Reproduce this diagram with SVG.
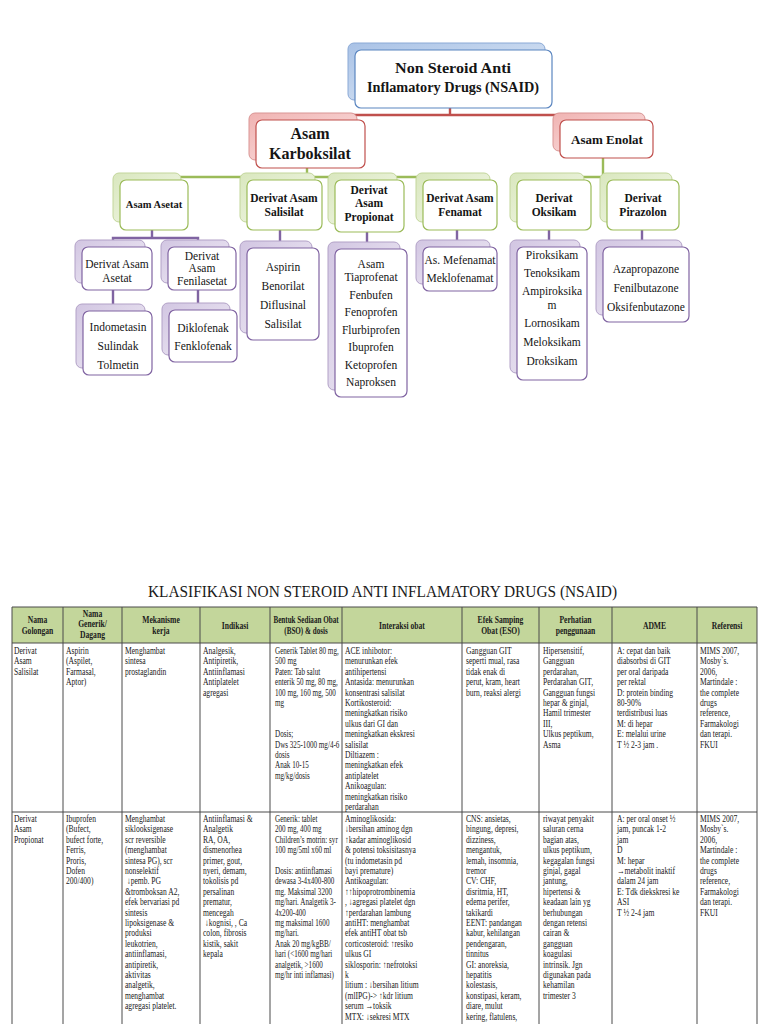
<svg xmlns="http://www.w3.org/2000/svg" width="768" height="1024" viewBox="0 0 768 1024">
<defs>
<linearGradient id="gB" x1="0" y1="0" x2="1" y2="1"><stop offset="0" stop-color="#a9c2e6"/><stop offset="1" stop-color="#e3ecf7"/></linearGradient>
<linearGradient id="gR" x1="0" y1="0" x2="1" y2="1"><stop offset="0" stop-color="#f0b3b2"/><stop offset="1" stop-color="#fbe3e3"/></linearGradient>
<linearGradient id="gG" x1="0" y1="0" x2="1" y2="1"><stop offset="0" stop-color="#d9e7be"/><stop offset="1" stop-color="#f4f8ea"/></linearGradient>
<linearGradient id="gP" x1="0" y1="0" x2="1" y2="1"><stop offset="0" stop-color="#d2c6e2"/><stop offset="1" stop-color="#f1edf6"/></linearGradient>
</defs>
<style>
.tr{font-family:"Liberation Serif","Times New Roman",serif;fill:#151515;text-anchor:middle}
.b{font-weight:bold}
.fr{fill:#ffffff;stroke-width:1.2}
.bk{stroke-width:1}
.sB{stroke:#5b86c0}.fB{fill:url(#gB);stroke:#8aa9d6}
.sR{stroke:#c0504d}.fR{fill:url(#gR);stroke:#d99594}
.sG{stroke:#9bbb59}.fG{fill:url(#gG);stroke:#c3d69b}
.sP{stroke:#8064a2}.fP{fill:url(#gP);stroke:#b2a1c7}
.cn{fill:none;stroke-width:2.4}
.t{font-family:"Liberation Serif","Times New Roman",serif;font-size:9.5px;fill:#1a1a1a}
.h{font-family:"Liberation Serif","Times New Roman",serif;font-size:9.5px;font-weight:bold;fill:#1a1a1a;text-anchor:middle}
.gl{stroke:#4a4a4a;stroke-width:1;fill:none}
</style>
<rect width="768" height="1024" fill="#ffffff"/>

<g id="connectors">
<path class="cn" stroke="#c0504d" d="M450,108 V115 M305,120 V115 H601 V120"/>
<path class="cn" stroke="#9bbb59" d="M307,168 V177 M150,181 V177 H457 V181 M280,177 V181 M366,177 V181 M603,158 V177 M551,181 V177 H640 V181"/>
<path class="cn" stroke="#8064a2" d="M152,230 V238 M113,243 V238 H198 V243 M113,290 V307 M198,290 V305 M280,230 V244 M367,232 V244 M457,230 V242 M549,230 V242 M642,230 V242"/>
</g>

<g id="n-root" class="tr">
<rect class="bk fB" x="348" y="43" width="197" height="57" rx="6"/>
<rect class="fr sB" x="355" y="50" width="197" height="58" rx="6"/>
<text class="b" x="453" y="73" font-size="15" textLength="116" lengthAdjust="spacingAndGlyphs">Non Steroid Anti</text>
<text class="b" x="453" y="92" font-size="15" textLength="172" lengthAdjust="spacingAndGlyphs">Inflamatory Drugs (NSAID)</text>
</g>

<g id="n-karboksilat" class="tr">
<rect class="bk fR" x="249" y="113" width="108" height="47" rx="6"/>
<rect class="fr sR" x="256" y="120" width="109" height="48" rx="6"/>
<text class="b" x="310" y="139" font-size="16">Asam</text>
<text class="b" x="310" y="159" font-size="16">Karboksilat</text>
</g>

<g id="n-enolat" class="tr">
<rect class="bk fR" x="553" y="113" width="92" height="38" rx="6"/>
<rect class="fr sR" x="560" y="120" width="93" height="38" rx="6"/>
<text class="b" x="607" y="144" font-size="13">Asam Enolat</text>
</g>

<g id="n-asetat" class="tr">
<rect class="bk fG" x="113" y="173" width="68" height="49" rx="6"/>
<rect class="fr sG" x="120" y="180" width="68" height="50" rx="6"/>
<text class="b" x="154" y="208" font-size="10.5">Asam Asetat</text>
</g>

<g id="n-salisilat" class="tr">
<rect class="bk fG" x="240" y="173" width="75" height="49" rx="6"/>
<rect class="fr sG" x="247" y="180" width="75" height="50" rx="6"/>
<text class="b" x="284" y="202" font-size="11.5">Derivat Asam</text>
<text class="b" x="284" y="216" font-size="11.5">Salisilat</text>
</g>

<g id="n-propionat" class="tr">
<rect class="bk fG" x="328" y="173" width="69" height="51" rx="6"/>
<rect class="fr sG" x="335" y="180" width="69" height="52" rx="6"/>
<text class="b" x="369" y="194" font-size="11.5">Derivat</text>
<text class="b" x="369" y="207" font-size="11.5">Asam</text>
<text class="b" x="369" y="221" font-size="11.5">Propionat</text>
</g>

<g id="n-fenamat" class="tr">
<rect class="bk fG" x="416" y="173" width="74" height="49" rx="6"/>
<rect class="fr sG" x="423" y="180" width="74" height="50" rx="6"/>
<text class="b" x="460" y="202" font-size="11.5">Derivat Asam</text>
<text class="b" x="460" y="216" font-size="11.5">Fenamat</text>
</g>

<g id="n-oksikam" class="tr">
<rect class="bk fG" x="510" y="173" width="74" height="49" rx="6"/>
<rect class="fr sG" x="517" y="180" width="74" height="50" rx="6"/>
<text class="b" x="554" y="202" font-size="11.5">Derivat</text>
<text class="b" x="554" y="216" font-size="11.5">Oksikam</text>
</g>

<g id="n-pirazolon" class="tr">
<rect class="bk fG" x="600" y="173" width="72" height="49" rx="6"/>
<rect class="fr sG" x="607" y="180" width="72" height="50" rx="6"/>
<text class="b" x="643" y="202" font-size="11.5">Derivat</text>
<text class="b" x="643" y="216" font-size="11.5">Pirazolon</text>
</g>

<g id="n-der-asetat" class="tr" font-size="11.5">
<rect class="bk fP" x="75" y="240" width="70" height="43" rx="6"/>
<rect class="fr sP" x="82" y="247" width="70" height="43" rx="6"/>
<text x="117" y="268">Derivat Asam</text>
<text x="117" y="282">Asetat</text>
</g>

<g id="n-der-fenilasetat" class="tr" font-size="11.5">
<rect class="bk fP" x="161" y="240" width="68" height="43" rx="6"/>
<rect class="fr sP" x="168" y="247" width="68" height="43" rx="6"/>
<text x="202" y="260">Derivat</text>
<text x="202" y="272">Asam</text>
<text x="202" y="285">Fenilasetat</text>
</g>

<g id="n-indometasin" class="tr" font-size="11.5">
<rect class="bk fP" x="76" y="304" width="69" height="64" rx="6"/>
<rect class="fr sP" x="83" y="311" width="69" height="64" rx="6"/>
<text x="118" y="331">Indometasin</text>
<text x="118" y="350">Sulindak</text>
<text x="118" y="369">Tolmetin</text>
</g>

<g id="n-diklofenak" class="tr" font-size="11.5">
<rect class="bk fP" x="162" y="303" width="68" height="52" rx="6"/>
<rect class="fr sP" x="169" y="310" width="68" height="52" rx="6"/>
<text x="203" y="332">Diklofenak</text>
<text x="203" y="350">Fenklofenak</text>
</g>

<g id="n-aspirin" class="tr" font-size="11.5">
<rect class="bk fP" x="240" y="241" width="72" height="92" rx="6"/>
<rect class="fr sP" x="247" y="248" width="72" height="92" rx="6"/>
<text x="283" y="271">Aspirin</text>
<text x="283" y="290">Benorilat</text>
<text x="283" y="309">Diflusinal</text>
<text x="283" y="328">Salisilat</text>
</g>

<g id="n-tiaprofenat" class="tr" font-size="11.5">
<rect class="bk fP" x="328" y="242" width="72" height="148" rx="6"/>
<rect class="fr sP" x="335" y="249" width="72" height="148" rx="6"/>
<text x="371" y="268">Asam</text>
<text x="371" y="281">Tiaprofenat</text>
<text x="371" y="299">Fenbufen</text>
<text x="371" y="316">Fenoprofen</text>
<text x="371" y="334">Flurbiprofen</text>
<text x="371" y="351">Ibuprofen</text>
<text x="371" y="369">Ketoprofen</text>
<text x="371" y="386">Naproksen</text>
</g>

<g id="n-mefenamat" class="tr" font-size="11.5">
<rect class="bk fP" x="416" y="240" width="74" height="44" rx="6"/>
<rect class="fr sP" x="423" y="247" width="74" height="44" rx="6"/>
<text x="460" y="264">As. Mefenamat</text>
<text x="460" y="282">Meklofenamat</text>
</g>

<g id="n-piroksikam" class="tr" font-size="11.5">
<rect class="bk fP" x="510" y="240" width="70" height="133" rx="6"/>
<rect class="fr sP" x="517" y="247" width="70" height="133" rx="6"/>
<text x="552" y="259">Piroksikam</text>
<text x="552" y="277">Tenoksikam</text>
<text x="552" y="295">Ampiroksika</text>
<text x="552" y="309">m</text>
<text x="552" y="327">Lornosikam</text>
<text x="552" y="346">Meloksikam</text>
<text x="552" y="365">Droksikam</text>
</g>

<g id="n-azapropazone" class="tr" font-size="11.5">
<rect class="bk fP" x="596" y="240" width="86" height="75" rx="6"/>
<rect class="fr sP" x="603" y="247" width="86" height="75" rx="6"/>
<text x="646" y="273">Azapropazone</text>
<text x="646" y="292">Fenilbutazone</text>
<text x="646" y="311">Oksifenbutazone</text>
</g>

<g id="table">
<text x="148" y="597" font-family="Liberation Serif, Times New Roman, serif" font-size="16" fill="#1a1a1a" textLength="469" lengthAdjust="spacingAndGlyphs">KLASIFIKASI NON STEROID ANTI INFLAMATORY DRUGS (NSAID)</text>
<rect x="12" y="607" width="745" height="36" fill="#c3d69b"/>
<path class="gl" d="M12,607 H757 M12,643 H757 M12,812 H757 M12,607 V1024 M63,607 V1024 M122,607 V1024 M200,607 V1024 M270,607 V1024 M342,607 V1024 M462,607 V1024 M539,607 V1024 M612,607 V1024 M697,607 V1024 M757,607 V1024"/>

<g id="header">
<text class="h" transform="translate(37.5,0) scale(0.8,1)"><tspan x="0" y="623">Nama</tspan><tspan x="0" y="634">Golongan</tspan></text>
<text class="h" transform="translate(92.5,0) scale(0.8,1)"><tspan x="0" y="617">Nama</tspan><tspan x="0" y="627">Generik/</tspan><tspan x="0" y="638">Dagang</tspan></text>
<text class="h" transform="translate(161,0) scale(0.8,1)"><tspan x="0" y="623">Mekanisme</tspan><tspan x="0" y="634">kerja</tspan></text>
<text class="h" transform="translate(235,0) scale(0.8,1)"><tspan x="0" y="629">Indikasi</tspan></text>
<text class="h" transform="translate(306,0) scale(0.75,1)"><tspan x="0" y="623">Bentuk Sediaan Obat</tspan><tspan x="0" y="634">(BSO) &amp; dosis</tspan></text>
<text class="h" transform="translate(402,0) scale(0.8,1)"><tspan x="0" y="629">Interaksi obat</tspan></text>
<text class="h" transform="translate(500.5,0) scale(0.8,1)"><tspan x="0" y="623">Efek Samping</tspan><tspan x="0" y="634">Obat (ESO)</tspan></text>
<text class="h" transform="translate(575.5,0) scale(0.8,1)"><tspan x="0" y="623">Perhatian</tspan><tspan x="0" y="634">penggunaan</tspan></text>
<text class="h" transform="translate(654.5,0) scale(0.8,1)"><tspan x="0" y="629">ADME</tspan></text>
<text class="h" transform="translate(727,0) scale(0.8,1)"><tspan x="0" y="629">Referensi</tspan></text>
</g>

<g id="row1">
<text class="t" transform="translate(14,0) scale(0.8,1)"><tspan x="0" y="654">Derivat</tspan><tspan x="0" dy="10.4">Asam</tspan><tspan x="0" dy="10.4">Salisilat</tspan></text>
<text class="t" transform="translate(66,0) scale(0.8,1)"><tspan x="0" y="654">Aspirin</tspan><tspan x="0" dy="10.4">(Aspilet,</tspan><tspan x="0" dy="10.4">Farmasal,</tspan><tspan x="0" dy="10.4">Aptor)</tspan></text>
<text class="t" transform="translate(125,0) scale(0.8,1)"><tspan x="0" y="654">Menghambat</tspan><tspan x="0" dy="10.4">sintesa</tspan><tspan x="0" dy="10.4">prostaglandin</tspan></text>
<text class="t" transform="translate(203,0) scale(0.8,1)"><tspan x="0" y="654">Analgesik,</tspan><tspan x="0" dy="10.4">Antipiretik,</tspan><tspan x="0" dy="10.4">Antiinflamasi</tspan><tspan x="0" dy="10.4">Antiplatelet</tspan><tspan x="0" dy="10.4">agregasi</tspan></text>
<text class="t" transform="translate(275,0) scale(0.75,1)"><tspan x="0" y="654">Generik Tablet 80 mg,</tspan><tspan x="0" dy="10.4">500 mg</tspan><tspan x="0" dy="10.4">Paten: Tab salut</tspan><tspan x="0" dy="10.4">enterik 50 mg, 80 mg,</tspan><tspan x="0" dy="10.4">100 mg, 160 mg, 500</tspan><tspan x="0" dy="10.4">mg</tspan><tspan x="0" dy="31.2">Dosis;</tspan><tspan x="0" dy="10.4">Dws 325-1000 mg/4-6</tspan><tspan x="0" dy="10.4">dosis</tspan><tspan x="0" dy="10.4">Anak 10-15</tspan><tspan x="0" dy="10.4">mg/kg/dosis</tspan></text>
<text class="t" transform="translate(345,0) scale(0.8,1)"><tspan x="0" y="654">ACE inhibotor:</tspan><tspan x="0" dy="10.4">menurunkan efek</tspan><tspan x="0" dy="10.4">antihipertensi</tspan><tspan x="0" dy="10.4">Antasida: menurunkan</tspan><tspan x="0" dy="10.4">konsentrasi salisilat</tspan><tspan x="0" dy="10.4">Kortikosteroid:</tspan><tspan x="0" dy="10.4">meningkatkan risiko</tspan><tspan x="0" dy="10.4">ulkus dari GI dan</tspan><tspan x="0" dy="10.4">meningkatkan ekskresi</tspan><tspan x="0" dy="10.4">salisilat</tspan><tspan x="0" dy="10.4">Diltiazem :</tspan><tspan x="0" dy="10.4">meningkatkan efek</tspan><tspan x="0" dy="10.4">antiplatelet</tspan><tspan x="0" dy="10.4">Anikoagulan:</tspan><tspan x="0" dy="10.4">meningkatkan risiko</tspan><tspan x="0" dy="10.4">perdarahan</tspan></text>
<text class="t" transform="translate(466,0) scale(0.8,1)"><tspan x="0" y="654">Gangguan GIT</tspan><tspan x="0" dy="10.4">seperti mual, rasa</tspan><tspan x="0" dy="10.4">tidak enak di</tspan><tspan x="0" dy="10.4">perut, kram, heart</tspan><tspan x="0" dy="10.4">burn, reaksi alergi</tspan></text>
<text class="t" transform="translate(543,0) scale(0.8,1)"><tspan x="0" y="654">Hipersensitif,</tspan><tspan x="0" dy="10.4">Gangguan</tspan><tspan x="0" dy="10.4">perdarahan,</tspan><tspan x="0" dy="10.4">Perdarahan GIT,</tspan><tspan x="0" dy="10.4">Gangguan fungsi</tspan><tspan x="0" dy="10.4">hepar &amp; ginjal,</tspan><tspan x="0" dy="10.4">Hamil trimester</tspan><tspan x="0" dy="10.4">III,</tspan><tspan x="0" dy="10.4">Ulkus peptikum,</tspan><tspan x="0" dy="10.4">Asma</tspan></text>
<text class="t" transform="translate(617,0) scale(0.8,1)"><tspan x="0" y="654">A: cepat dan baik</tspan><tspan x="0" dy="10.4">diabsorbsi di GIT</tspan><tspan x="0" dy="10.4">per oral daripada</tspan><tspan x="0" dy="10.4">per rektal</tspan><tspan x="0" dy="10.4">D: protein binding</tspan><tspan x="0" dy="10.4">80-90%</tspan><tspan x="0" dy="10.4">terdistribusi luas</tspan><tspan x="0" dy="10.4">M: di hepar</tspan><tspan x="0" dy="10.4">E: melalui urine</tspan><tspan x="0" dy="10.4">T ½ 2-3 jam .</tspan></text>
<text class="t" transform="translate(700,0) scale(0.8,1)"><tspan x="0" y="654">MIMS 2007,</tspan><tspan x="0" dy="10.4">Mosby`s.</tspan><tspan x="0" dy="10.4">2006,</tspan><tspan x="0" dy="10.4">Martindale :</tspan><tspan x="0" dy="10.4">the complete</tspan><tspan x="0" dy="10.4">drugs</tspan><tspan x="0" dy="10.4">reference,</tspan><tspan x="0" dy="10.4">Farmakologi</tspan><tspan x="0" dy="10.4">dan terapi.</tspan><tspan x="0" dy="10.4">FKUI</tspan></text>
</g>

<g id="row2">
<text class="t" transform="translate(14,0) scale(0.8,1)"><tspan x="0" y="822">Derivat</tspan><tspan x="0" dy="10.4">Asam</tspan><tspan x="0" dy="10.4">Propionat</tspan></text>
<text class="t" transform="translate(66,0) scale(0.8,1)"><tspan x="0" y="822">Ibuprofen</tspan><tspan x="0" dy="10.4">(Bufect,</tspan><tspan x="0" dy="10.4">bufect forte,</tspan><tspan x="0" dy="10.4">Ferris,</tspan><tspan x="0" dy="10.4">Proris,</tspan><tspan x="0" dy="10.4">Dofen</tspan><tspan x="0" dy="10.4">200/400)</tspan></text>
<text class="t" transform="translate(125,0) scale(0.8,1)"><tspan x="0" y="822">Menghambat</tspan><tspan x="0" dy="10.4">siklooksigenase</tspan><tspan x="0" dy="10.4">scr reversible</tspan><tspan x="0" dy="10.4">(menghambat</tspan><tspan x="0" dy="10.4">sintesa PG), scr</tspan><tspan x="0" dy="10.4">nonselektif</tspan><tspan x="0" dy="10.4"> ↓pemb. PG</tspan><tspan x="0" dy="10.4">&amp;tromboksan A2,</tspan><tspan x="0" dy="10.4">efek bervariasi pd</tspan><tspan x="0" dy="10.4">sintesis</tspan><tspan x="0" dy="10.4">lipoksigenase &amp;</tspan><tspan x="0" dy="10.4">produksi</tspan><tspan x="0" dy="10.4">leukotrien,</tspan><tspan x="0" dy="10.4">antiinflamasi,</tspan><tspan x="0" dy="10.4">antipiretik,</tspan><tspan x="0" dy="10.4">aktivitas</tspan><tspan x="0" dy="10.4">analgetik,</tspan><tspan x="0" dy="10.4">menghambat</tspan><tspan x="0" dy="10.4">agregasi platelet.</tspan></text>
<text class="t" transform="translate(203,0) scale(0.8,1)"><tspan x="0" y="822">Antiinflamasi &amp;</tspan><tspan x="0" dy="10.4">Analgetik</tspan><tspan x="0" dy="10.4">RA, OA,</tspan><tspan x="0" dy="10.4">dismenorhea</tspan><tspan x="0" dy="10.4">primer, gout,</tspan><tspan x="0" dy="10.4">nyeri, demam,</tspan><tspan x="0" dy="10.4">tokolisis pd</tspan><tspan x="0" dy="10.4">persalinan</tspan><tspan x="0" dy="10.4">prematur,</tspan><tspan x="0" dy="10.4">mencegah</tspan><tspan x="0" dy="10.4"> ↓kognisi, , Ca</tspan><tspan x="0" dy="10.4">colon, fibrosis</tspan><tspan x="0" dy="10.4">kistik, sakit</tspan><tspan x="0" dy="10.4">kepala</tspan></text>
<text class="t" transform="translate(275,0) scale(0.75,1)"><tspan x="0" y="822">Generik: tablet</tspan><tspan x="0" dy="10.4">200 mg, 400 mg</tspan><tspan x="0" dy="10.4">Children’s motrin: syr</tspan><tspan x="0" dy="10.4">100 mg/5ml x60 ml</tspan><tspan x="0" dy="20.8">Dosis: antiinflamasi</tspan><tspan x="0" dy="10.4">dewasa 3-4x400-800</tspan><tspan x="0" dy="10.4">mg. Maksimal 3200</tspan><tspan x="0" dy="10.4">mg/hari. Analgetik 3-</tspan><tspan x="0" dy="10.4">4x200-400</tspan><tspan x="0" dy="10.4">mg maksimal 1600</tspan><tspan x="0" dy="10.4">mg/hari.</tspan><tspan x="0" dy="10.4">Anak 20 mg/kgBB/</tspan><tspan x="0" dy="10.4">hari (&lt;1600 mg/hari</tspan><tspan x="0" dy="10.4">analgetik, &gt;1600</tspan><tspan x="0" dy="10.4">mg/hr inti inflamasi)</tspan></text>
<text class="t" transform="translate(345,0) scale(0.8,1)"><tspan x="0" y="822">Aminoglikosida:</tspan><tspan x="0" dy="10.4">↓bersihan aminog dgn</tspan><tspan x="0" dy="10.4">↑kadar aminoglikosid</tspan><tspan x="0" dy="10.4">&amp; potensi toksisitasnya</tspan><tspan x="0" dy="10.4">(tu indometasin pd</tspan><tspan x="0" dy="10.4">bayi premature)</tspan><tspan x="0" dy="10.4">Antikoagulan:</tspan><tspan x="0" dy="10.4">↑↑hipoprotrombinemia</tspan><tspan x="0" dy="10.4">, ↓agregasi platelet dgn</tspan><tspan x="0" dy="10.4">↑perdarahan lambung</tspan><tspan x="0" dy="10.4">antiHT: menghambat</tspan><tspan x="0" dy="10.4">efek antiHT obat tsb</tspan><tspan x="0" dy="10.4">corticosteroid: ↑resiko</tspan><tspan x="0" dy="10.4">ulkus GI</tspan><tspan x="0" dy="10.4">siklosporin: ↑nefrotoksi</tspan><tspan x="0" dy="10.4">k</tspan><tspan x="0" dy="10.4">litium : ↓bersihan litium</tspan><tspan x="0" dy="10.4">(mlIPG)-&gt; ↑kdr litium</tspan><tspan x="0" dy="10.4">serum →toksik</tspan><tspan x="0" dy="10.4">MTX: ↓sekresi MTX</tspan></text>
<text class="t" transform="translate(466,0) scale(0.8,1)"><tspan x="0" y="822">CNS: ansietas,</tspan><tspan x="0" dy="10.4">bingung, depresi,</tspan><tspan x="0" dy="10.4">dizziness,</tspan><tspan x="0" dy="10.4">mengantuk,</tspan><tspan x="0" dy="10.4">lemah, insomnia,</tspan><tspan x="0" dy="10.4">tremor</tspan><tspan x="0" dy="10.4">CV: CHF,</tspan><tspan x="0" dy="10.4">disritmia, HT,</tspan><tspan x="0" dy="10.4">edema perifer,</tspan><tspan x="0" dy="10.4">takikardi</tspan><tspan x="0" dy="10.4">EENT: pandangan</tspan><tspan x="0" dy="10.4">kabur, kehilangan</tspan><tspan x="0" dy="10.4">pendengaran,</tspan><tspan x="0" dy="10.4">tinnitus</tspan><tspan x="0" dy="10.4">GI: anoreksia,</tspan><tspan x="0" dy="10.4">hepatitis</tspan><tspan x="0" dy="10.4">kolestasis,</tspan><tspan x="0" dy="10.4">konstipasi, keram,</tspan><tspan x="0" dy="10.4">diare, mulut</tspan><tspan x="0" dy="10.4">kering, flatulens,</tspan></text>
<text class="t" transform="translate(543,0) scale(0.8,1)"><tspan x="0" y="822">riwayat penyakit</tspan><tspan x="0" dy="10.4">saluran cerna</tspan><tspan x="0" dy="10.4">bagian atas,</tspan><tspan x="0" dy="10.4">ulkus peptikum,</tspan><tspan x="0" dy="10.4">kegagalan fungsi</tspan><tspan x="0" dy="10.4">ginjal, gagal</tspan><tspan x="0" dy="10.4">jantung,</tspan><tspan x="0" dy="10.4">hipertensi &amp;</tspan><tspan x="0" dy="10.4">keadaan lain yg</tspan><tspan x="0" dy="10.4">berhubungan</tspan><tspan x="0" dy="10.4">dengan retensi</tspan><tspan x="0" dy="10.4">cairan &amp;</tspan><tspan x="0" dy="10.4">gangguan</tspan><tspan x="0" dy="10.4">koagulasi</tspan><tspan x="0" dy="10.4">intrinsik. Jgn</tspan><tspan x="0" dy="10.4">digunakan pada</tspan><tspan x="0" dy="10.4">kehamilan</tspan><tspan x="0" dy="10.4">trimester 3</tspan></text>
<text class="t" transform="translate(617,0) scale(0.8,1)"><tspan x="0" y="822">A: per oral onset ½</tspan><tspan x="0" dy="10.4">jam, puncak 1-2</tspan><tspan x="0" dy="10.4">jam</tspan><tspan x="0" dy="10.4">D</tspan><tspan x="0" dy="10.4">M: hepar</tspan><tspan x="0" dy="10.4">→metabolit inaktif</tspan><tspan x="0" dy="10.4">dalam 24 jam</tspan><tspan x="0" dy="10.4">E: Tdk diekskresi ke</tspan><tspan x="0" dy="10.4">ASI</tspan><tspan x="0" dy="10.4">T ½ 2-4 jam</tspan></text>
<text class="t" transform="translate(700,0) scale(0.8,1)"><tspan x="0" y="822">MIMS 2007,</tspan><tspan x="0" dy="10.4">Mosby`s.</tspan><tspan x="0" dy="10.4">2006,</tspan><tspan x="0" dy="10.4">Martindale :</tspan><tspan x="0" dy="10.4">the complete</tspan><tspan x="0" dy="10.4">drugs</tspan><tspan x="0" dy="10.4">reference,</tspan><tspan x="0" dy="10.4">Farmakologi</tspan><tspan x="0" dy="10.4">dan terapi.</tspan><tspan x="0" dy="10.4">FKUI</tspan></text>
</g>
</g>
</svg>
